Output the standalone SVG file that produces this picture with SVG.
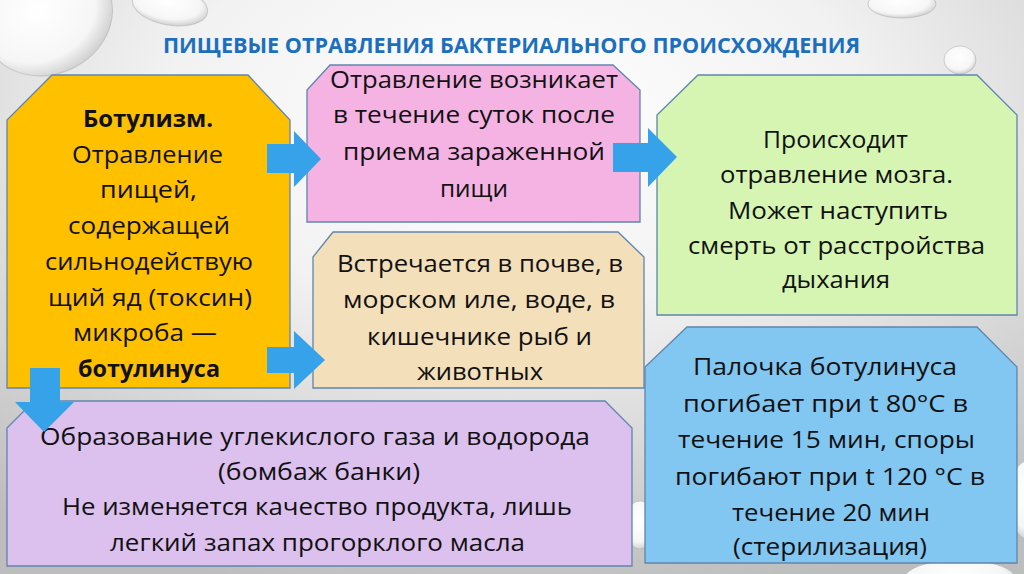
<svg xmlns="http://www.w3.org/2000/svg" width="1024" height="574" viewBox="0 0 1024 574">
<defs>
<radialGradient id="bg" cx="0.5" cy="0.2" r="0.85">
<stop offset="0" stop-color="#ffffff"/>
<stop offset="0.4" stop-color="#f2f2f2"/>
<stop offset="1" stop-color="#bdbdbd"/>
</radialGradient>
<radialGradient id="drop" cx="0.45" cy="0.4" r="0.6">
<stop offset="0" stop-color="#ffffff"/>
<stop offset="0.75" stop-color="#f6f6f6"/>
<stop offset="1" stop-color="#d2d2d2"/>
</radialGradient>
<style>
.box{stroke:#5f86ad;stroke-width:1.3}
.arrow{fill:#36a2ea}
.t{font-family:"Open Sans","Noto Sans","DejaVu Sans",sans-serif;font-size:23px;fill:#111}
.b{font-weight:bold}
.title{font-family:"Open Sans","Noto Sans","DejaVu Sans",sans-serif;font-size:22px;font-weight:bold;fill:#1c6fbd}
.drop{fill:url(#drop);stroke:#a8a8a8;stroke-width:1;stroke-opacity:0.5}
</style>
</defs>
<rect width="1024" height="574" fill="url(#bg)"/>
<g id="droplets">
<ellipse class="drop" cx="48" cy="18" rx="66" ry="56" transform="rotate(-25 48 18)"/>
<ellipse class="drop" cx="170" cy="6" rx="38" ry="19" transform="rotate(10 170 6)"/>
<ellipse class="drop" cx="902" cy="4" rx="34" ry="14"/>
<ellipse class="drop" cx="960" cy="60" rx="16" ry="14"/>
<ellipse class="drop" cx="1030" cy="500" rx="22" ry="40"/>
<ellipse class="drop" cx="640" cy="525" rx="16" ry="24"/>
<ellipse class="drop" cx="960" cy="578" rx="55" ry="18"/>
</g>
<text class="title" x="163" y="53" textLength="697" lengthAdjust="spacingAndGlyphs">ПИЩЕВЫЕ ОТРАВЛЕНИЯ БАКТЕРИАЛЬНОГО ПРОИСХОЖДЕНИЯ</text>
<g id="node-botulism">
<polygon class="box" fill="#ffc000" points="52,75 248,75 290,120 290,388 7,388 7,120"/>
<text class="t b" x="83" y="127" textLength="130" lengthAdjust="spacingAndGlyphs">Ботулизм.</text>
<text class="t" x="72" y="163" textLength="151" lengthAdjust="spacingAndGlyphs">Отравление</text>
<text class="t" x="100" y="198" textLength="97" lengthAdjust="spacingAndGlyphs">пищей,</text>
<text class="t" x="68" y="234" textLength="162" lengthAdjust="spacingAndGlyphs">содержащей</text>
<text class="t" x="45" y="270" textLength="208" lengthAdjust="spacingAndGlyphs">сильнодействую</text>
<text class="t" x="48" y="306" textLength="204" lengthAdjust="spacingAndGlyphs">щий яд (токсин)</text>
<text class="t" x="73" y="341" textLength="144" lengthAdjust="spacingAndGlyphs">микроба —</text>
<text class="t b" x="78" y="377" textLength="142" lengthAdjust="spacingAndGlyphs">ботулинуса</text>
</g>
<g id="node-onset">
<polygon class="box" fill="#f5b3e4" points="330,65 613,65 640,90 640,222 307,222 307,90"/>
<text class="t" x="330" y="88" textLength="288" lengthAdjust="spacingAndGlyphs">Отравление возникает</text>
<text class="t" x="333" y="123" textLength="282" lengthAdjust="spacingAndGlyphs">в течение суток после</text>
<text class="t" x="343" y="160" textLength="262" lengthAdjust="spacingAndGlyphs">приема зараженной</text>
<text class="t" x="440" y="197" textLength="68" lengthAdjust="spacingAndGlyphs">пищи</text>
</g>
<g id="node-habitat">
<polygon class="box" fill="#f3dfba" points="333,232 618,232 644,257 644,388 313,388 313,257"/>
<text class="t" x="337" y="272" textLength="286" lengthAdjust="spacingAndGlyphs">Встречается в почве, в</text>
<text class="t" x="343" y="308" textLength="272" lengthAdjust="spacingAndGlyphs">морском иле, воде, в</text>
<text class="t" x="367" y="345" textLength="225" lengthAdjust="spacingAndGlyphs">кишечнике рыб и</text>
<text class="t" x="417" y="380" textLength="126" lengthAdjust="spacingAndGlyphs">животных</text>
</g>
<g id="node-brain">
<polygon class="box" fill="#d6f5b3" points="698,75 977,75 1017,115 1017,315 657,315 657,115"/>
<text class="t" x="763" y="148" textLength="145" lengthAdjust="spacingAndGlyphs">Происходит</text>
<text class="t" x="720" y="183" textLength="233" lengthAdjust="spacingAndGlyphs">отравление мозга.</text>
<text class="t" x="728" y="219" textLength="220" lengthAdjust="spacingAndGlyphs">Может наступить</text>
<text class="t" x="688" y="254" textLength="297" lengthAdjust="spacingAndGlyphs">смерть от расстройства</text>
<text class="t" x="782" y="288" textLength="108" lengthAdjust="spacingAndGlyphs">дыхания</text>
</g>
<g id="node-sterilization">
<polygon class="box" fill="#82c6f2" points="687,327 977,327 1017,367 1017,563 645,563 645,367"/>
<text class="t" x="693" y="375" textLength="264" lengthAdjust="spacingAndGlyphs">Палочка ботулинуса</text>
<text class="t" x="683" y="412" textLength="285" lengthAdjust="spacingAndGlyphs">погибает при t 80°C в</text>
<text class="t" x="678" y="448" textLength="297" lengthAdjust="spacingAndGlyphs">течение 15 мин, споры</text>
<text class="t" x="675" y="485" textLength="310" lengthAdjust="spacingAndGlyphs">погибают при t 120 °C в</text>
<text class="t" x="732" y="521" textLength="198" lengthAdjust="spacingAndGlyphs">течение 20 мин</text>
<text class="t" x="733" y="555" textLength="194" lengthAdjust="spacingAndGlyphs">(стерилизация)</text>
</g>
<g id="node-bombage">
<polygon class="box" fill="#dcc0ee" points="34,401 605,401 632,428 632,566 7,566 7,428"/>
<text class="t" x="40" y="445" textLength="550" lengthAdjust="spacingAndGlyphs">Образование углекислого газа и водорода</text>
<text class="t" x="218" y="480" textLength="202" lengthAdjust="spacingAndGlyphs">(бомбаж банки)</text>
<text class="t" x="62" y="515" textLength="510" lengthAdjust="spacingAndGlyphs">Не изменяется качество продукта, лишь</text>
<text class="t" x="110" y="551" textLength="415" lengthAdjust="spacingAndGlyphs">легкий запах прогорклого масла</text>
</g>
<g id="connectors">
<polygon class="arrow" points="267,144 294,144 294,131 321,159 294,187 294,173 267,173"/>
<polygon class="arrow" points="267,347 294,347 294,331 325,360 294,389 294,373 267,373"/>
<polygon class="arrow" points="613,143 648,143 648,128 677,157 648,187 648,172 613,172"/>
<polygon class="arrow" points="30,368 60,368 60,402 74,402 44,432 15,402 30,402"/>
</g>
</svg>
